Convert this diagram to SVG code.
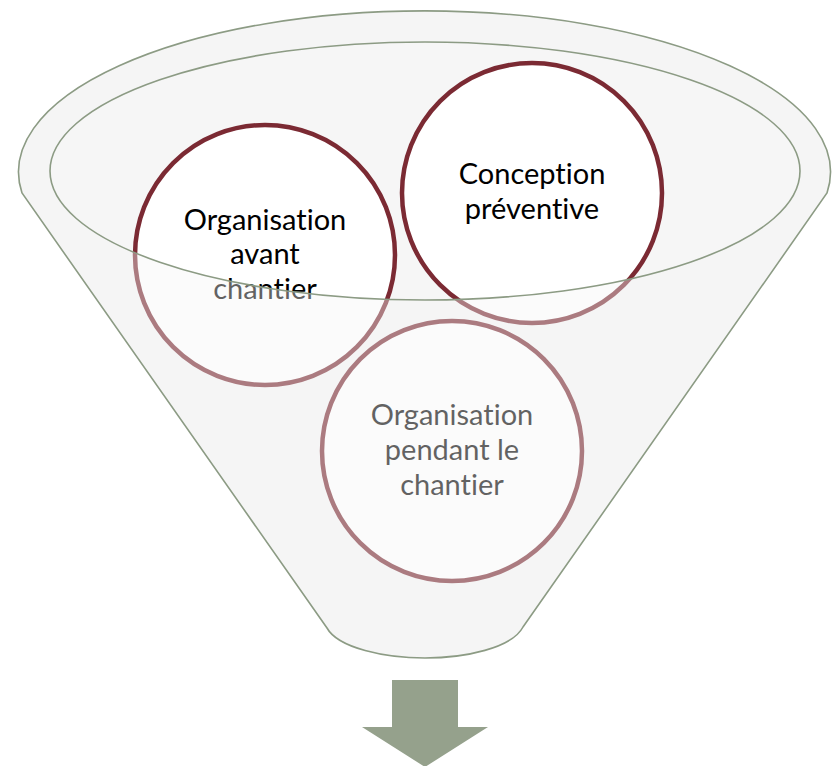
<svg xmlns="http://www.w3.org/2000/svg" width="835" height="766" viewBox="0 0 835 766">
<style>
.fun{fill:#F6F6F6;stroke:none}
.line{fill:none;stroke:#8C9B84;stroke-width:1.6}
.circ{fill:#FFFFFF;stroke:#7B2A33;stroke-width:4.5}
.lbl{font-family:Lato,"Liberation Sans",sans-serif;font-size:29px;fill:#000000;text-anchor:middle;font-variant-ligatures:none;font-feature-settings:"liga" 0}
.over{fill:#F4F4F4;fill-opacity:0.4;fill-rule:evenodd;stroke:none}
.arrow{fill:#95A18C}
</style>
<defs>
<path id="funnelPath" d="M22,193 A406,161 0 1 1 827,193 L523,627 C512,648 465,658 425,658 C385,658 338,648 327,628 Z"/>
</defs>
<rect width="835" height="766" fill="#FFFFFF"/>
<g id="funnel">
<use href="#funnelPath" class="fun"/>
</g>
<g id="node-conception">
<circle class="circ" cx="532" cy="193" r="130"/>
<text class="lbl" x="532" y="184">Conception</text>
<text class="lbl" x="532" y="219">préventive</text>
</g>
<g id="node-avant">
<circle class="circ" cx="265" cy="255" r="130"/>
<text class="lbl" x="265" y="230">Organisation</text>
<text class="lbl" x="265" y="264">avant</text>
<text class="lbl" x="265" y="299">chantier</text>
</g>
<g id="node-pendant">
<circle class="circ" cx="452" cy="451" r="130"/>
<text class="lbl" x="452" y="425">Organisation</text>
<text class="lbl" x="452" y="460">pendant le</text>
<text class="lbl" x="452" y="495">chantier</text>
</g>
<g id="funnel-front">
<path class="over" d="M22,193 A406,161 0 1 1 827,193 L523,627 C512,648 465,658 425,658 C385,658 338,648 327,628 Z M50,171 A375,129 0 1 0 800,171 A375,129 0 1 0 50,171 Z"/>
<ellipse class="line" cx="425" cy="171" rx="375" ry="129"/>
<use href="#funnelPath" class="line"/>
</g>
<g id="connectors">
<path class="arrow" d="M392,680 L458,680 L458,727 L488,727 L425,767 L362,727 L392,727 Z"/>
</g>
</svg>
